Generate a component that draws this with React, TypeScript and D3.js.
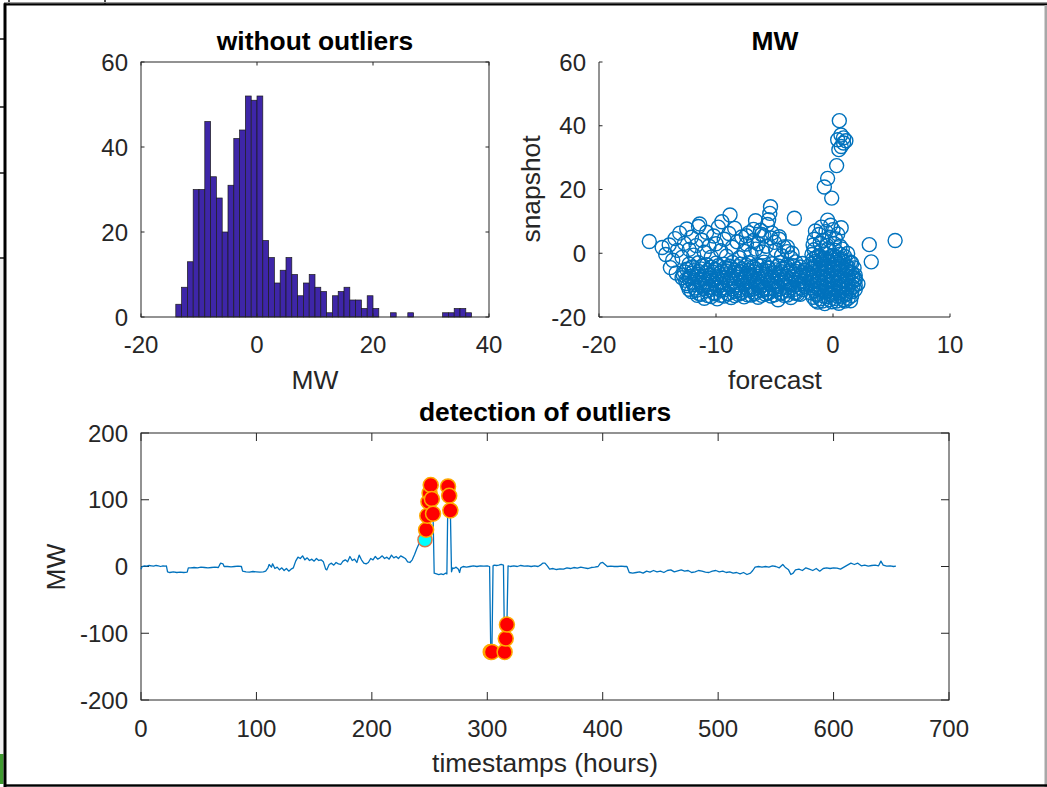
import React from 'react';
import * as d3 from 'd3';

const FONT = '"Liberation Sans", Arial, Helvetica, sans-serif';
const AX = '#262626';
const BLUE = '#0072BD';

// ---------- Histogram data ("without outliers") ----------
const histFirstEdge = -14;
const histBinWidth = 1;
const histCounts = [
  3, 7, 13, 30, 30, 46, 33, 28, 20, 31, 42, 44, 52, 51, 52, 18, 14, 8, 11, 14,
  10, 5, 8, 10, 7, 6, 1, 5, 6, 7, 4, 4, 2, 5, 2, 0, 0, 1, 0, 0,
  1, 0, 0, 0, 0, 0, 1, 1, 2, 2, 1,
];
const histXTicks = [-20, 0, 20, 40];
const histYTicks = [0, 20, 40, 60];

// ---------- Scatter data (forecast vs snapshot) ----------
const scatterBand: [number, number][] = [
  [-11.6,-13.2],[-11.0,-14.1],[-10.4,-13.6],[-9.9,-14.3],[-9.3,-13.4],[-8.7,-13.9],[-8.1,-12.9],[-7.6,-13.7],[-7.0,-13.1],[-6.4,-13.8],[-5.8,-12.8],[-5.3,-13.4],[-4.7,-14.6],[-4.2,-13.2],[-3.6,-13.9],[-3.0,-12.7],
  [-12.1,-12.0],[-11.5,-12.6],[-10.8,-11.8],[-10.2,-12.4],[-9.6,-11.6],[-9.0,-12.7],[-8.4,-11.9],[-7.8,-12.3],[-7.2,-11.5],[-6.7,-12.2],[-6.1,-11.7],[-5.5,-12.5],[-4.9,-11.6],[-4.4,-12.4],[-3.8,-11.8],[-3.2,-12.6],[-2.6,-11.4],
  [-12.4,-10.2],[-11.8,-10.9],[-11.2,-10.1],[-10.6,-10.7],[-10.0,-9.9],[-9.4,-10.8],[-8.8,-10.3],[-8.2,-10.9],[-7.6,-9.8],[-7.0,-10.6],[-6.4,-10.2],[-5.9,-10.9],[-5.3,-9.9],[-4.7,-10.5],[-4.1,-10.0],[-3.5,-10.8],[-2.9,-9.8],[-2.4,-10.4],
  [-12.6,-8.5],[-12.0,-9.1],[-11.4,-8.3],[-10.9,-8.9],[-10.3,-8.6],[-9.7,-9.2],[-9.1,-8.4],[-8.5,-8.9],[-7.9,-8.2],[-7.3,-9.0],[-6.8,-8.6],[-6.2,-9.1],[-5.6,-8.3],[-5.0,-8.8],[-4.4,-8.5],[-3.8,-9.0],[-3.2,-8.2],[-2.6,-8.7],
  [-12.8,-6.8],[-12.2,-7.3],[-11.6,-6.6],[-11.0,-7.2],[-10.5,-6.9],[-9.9,-7.4],[-9.3,-6.7],[-8.7,-7.1],[-8.1,-6.5],[-7.5,-7.3],[-7.0,-6.8],[-6.4,-7.2],[-5.8,-6.6],[-5.2,-7.1],[-4.6,-6.7],[-4.0,-7.3],[-3.4,-6.5],[-2.8,-7.0],[-2.3,-6.6],
  [-12.5,-5.0],[-11.9,-5.5],[-11.3,-4.9],[-10.7,-5.4],[-10.1,-5.1],[-9.5,-5.6],[-9.0,-4.8],[-8.4,-5.3],[-7.8,-4.9],[-7.2,-5.5],[-6.6,-5.0],[-6.0,-5.4],[-5.5,-4.7],[-4.9,-5.2],[-4.3,-4.8],[-3.7,-5.3],[-3.1,-4.9],[-2.5,-5.4],
  [-12.3,-3.4],[-11.5,-3.0],[-10.8,-3.6],[-10.0,-3.1],[-9.3,-3.5],[-8.6,-2.9],[-7.9,-3.4],[-7.2,-3.0],[-6.5,-3.6],[-5.9,-2.8],[-5.2,-3.3],[-4.5,-2.9],[-3.9,-3.5],[-3.2,-2.7],[-2.6,-3.2],
];
const scatterBandFill: [number, number][] = [
  [-11.3,-12.9],[-10.7,-13.3],[-10.1,-12.7],[-9.6,-13.2],[-9.0,-12.6],[-8.4,-13.3],[-7.9,-12.5],[-7.3,-13.0],[-6.7,-12.7],[-6.1,-13.2],[-5.6,-12.3],[-5.0,-13.0],[-4.5,-12.6],[-3.9,-13.1],[-3.3,-12.3],[-2.8,-12.9],
  [-12.3,-11.3],[-11.7,-11.6],[-11.1,-11.0],[-10.5,-11.4],[-9.9,-10.9],[-9.3,-11.5],[-8.6,-11.1],[-8.0,-11.6],[-7.4,-10.9],[-6.9,-11.3],[-6.3,-10.8],[-5.7,-11.4],[-5.1,-10.9],[-4.5,-11.2],[-3.9,-10.7],[-3.3,-11.3],[-2.7,-10.9],
  [-12.5,-9.5],[-11.9,-9.9],[-11.3,-9.3],[-10.7,-9.8],[-10.1,-9.4],[-9.5,-9.9],[-8.9,-9.5],[-8.3,-9.9],[-7.7,-9.2],[-7.1,-9.7],[-6.6,-9.4],[-6.0,-9.9],[-5.4,-9.2],[-4.8,-9.6],[-4.2,-9.3],[-3.6,-9.8],[-3.0,-9.3],[-2.5,-9.6],
  [-12.9,-7.7],[-12.3,-8.0],[-11.7,-7.5],[-11.1,-8.1],[-10.6,-7.8],[-10.0,-8.2],[-9.4,-7.6],[-8.8,-8.0],[-8.2,-7.5],[-7.6,-8.1],[-7.1,-7.7],[-6.5,-8.2],[-5.9,-7.5],[-5.3,-7.9],[-4.7,-7.6],[-4.1,-8.1],[-3.5,-7.4],[-2.9,-7.9],[-2.4,-7.6],
  [-12.7,-5.9],[-12.1,-6.3],[-11.5,-5.7],[-10.9,-6.2],[-10.3,-5.9],[-9.7,-6.4],[-9.1,-5.7],[-8.5,-6.1],[-7.9,-5.8],[-7.3,-6.3],[-6.8,-5.8],[-6.2,-6.2],[-5.6,-5.6],[-5.0,-6.1],[-4.4,-5.8],[-3.8,-6.2],[-3.2,-5.7],[-2.6,-6.1],
  [-12.0,-4.3],[-11.1,-4.0],[-10.4,-4.4],[-9.8,-3.9],[-9.2,-4.5],[-8.8,-4.1],[-8.1,-4.2],[-7.4,-3.8],[-6.8,-4.4],[-6.2,-4.0],[-5.6,-4.3],[-4.7,-4.0],[-4.0,-4.4],[-3.4,-3.9],[-2.8,-4.3],
];
const scatterUpperLeft: [number, number][] = [
  [-15.7,3.7],[-14.6,1.8],[-14.3,-0.4],[-14.0,2.6],[-13.7,-2.2],[-13.5,4.6],[-13.3,0.9],[-13.1,6.3],[-12.9,-1.3],[-12.7,3.1],
  [-12.5,7.6],[-12.3,1.2],[-12.1,5.0],[-11.9,-0.6],[-11.7,2.4],[-11.5,8.4],[-11.4,9.2],[-11.2,4.1],[-11.0,0.3],[-10.8,6.6],
  [-10.6,2.2],[-10.4,-1.2],[-10.2,5.4],[-10.0,3.0],[-9.8,8.2],[-9.6,0.8],[-9.5,9.9],[-9.3,4.4],[-9.1,-0.9],[-8.9,6.2],
  [-8.8,12.0],[-8.6,1.9],[-8.4,7.8],[-8.2,3.6],[-8.0,-1.4],[-7.8,5.1],[-7.6,0.6],[-7.4,2.9],[-7.2,6.4],[-7.0,-0.3],
  [-6.8,4.0],[-6.6,1.3],[-6.4,3.0],[-6.2,7.2],[-6.0,0.4],[-5.9,5.4],[-5.7,2.2],[-5.6,9.0],[-5.5,10.5],[-5.34,14.6],
  [-5.4,12.5],[-5.2,6.3],[-5.0,3.4],[-4.9,1.0],[-4.6,4.4],[-4.4,-0.8],[-4.2,2.0],[-3.9,0.5],[-3.6,-1.5],[-3.3,11.0],
  [-6.62,10.2],[-7.4,5.5],[-6.8,7.5],[-6.1,5.9],[-5.3,4.8],[-4.6,5.2],[-3.9,2.0],[-3.5,0.0],[-13.9,-4.5],[-13.4,-6.2],
];
const scatterNearZero: [number, number][] = [
  [-1.3,-15.3],[-0.7,-15.8],[-0.1,-15.2],[0.5,-15.7],[1.0,-15.0],
  [-1.7,-13.8],[-1.1,-14.3],[-0.5,-13.6],[0.1,-14.2],[0.7,-13.7],[1.3,-14.1],
  [-1.9,-12.4],[-1.3,-12.8],[-0.7,-12.2],[-0.1,-12.9],[0.5,-12.3],[1.1,-12.7],[1.6,-12.1],
  [-1.8,-10.9],[-1.2,-11.4],[-0.6,-10.7],[0.0,-11.3],[0.6,-10.8],[1.2,-11.2],[1.7,-10.6],
  [-2.0,-9.3],[-1.4,-9.8],[-0.8,-9.2],[-0.2,-9.9],[0.4,-9.4],[1.0,-9.7],[1.6,-9.1],[2.13,-9.6],
  [-1.9,-7.9],[-1.3,-8.3],[-0.7,-7.7],[-0.1,-8.2],[0.5,-7.8],[1.1,-8.4],[1.7,-7.6],
  [-2.0,-6.4],[-1.4,-6.8],[-0.8,-6.2],[-0.2,-6.9],[0.4,-6.3],[1.0,-6.7],[1.6,-6.1],[1.9,-6.9],
  [-1.8,-4.9],[-1.2,-5.3],[-0.6,-4.7],[0.0,-5.2],[0.6,-4.8],[1.2,-5.4],[1.8,-4.6],
  [-1.9,-3.4],[-1.3,-3.8],[-0.7,-3.2],[-0.1,-3.7],[0.5,-3.3],[1.1,-3.9],[1.6,-3.1],
  [-1.7,-1.9],[-1.1,-2.3],[-0.5,-1.7],[0.1,-2.2],[0.7,-1.8],[1.3,-2.4],
  [-1.8,-0.4],[-1.2,-0.8],[-0.6,-0.2],[0.0,-0.7],[0.6,-0.3],[1.25,-0.1],
  [-1.6,1.1],[-1.0,0.7],[-0.4,1.4],[0.2,0.9],[0.8,1.3],
  [-1.7,2.6],[-1.1,3.2],[-0.5,2.4],[0.1,3.0],[0.6,2.2],
  [-1.6,4.4],[-1.2,5.9],[-0.9,4.0],[-0.6,6.8],[-0.3,5.0],[0.0,7.4],[0.2,4.6],[-1.0,8.2],[-0.46,10.4],[-0.2,8.8],[0.4,6.0],[0.7,8.0],[-1.5,7.0],
];
const scatterZeroFill: [number, number][] = [
  [-1.5,-14.8],[-0.9,-15.0],[-0.3,-14.6],[0.3,-15.0],[0.9,-14.5],[1.5,-14.9],
  [-1.4,-13.1],[-0.8,-13.4],[-0.2,-13.0],[0.4,-13.5],[1.0,-13.1],[1.6,-13.3],
  [-1.6,-11.7],[-1.0,-12.0],[-0.4,-11.6],[0.2,-12.1],[0.8,-11.6],[1.4,-11.9],[1.9,-11.4],
  [-1.7,-10.1],[-1.1,-10.4],[-0.5,-10.0],[0.1,-10.5],[0.7,-10.1],[1.3,-10.4],[1.9,-10.0],
  [-1.7,-8.6],[-1.1,-9.0],[-0.5,-8.5],[0.1,-9.0],[0.7,-8.6],[1.3,-9.0],[1.9,-8.4],
  [-1.7,-7.1],[-1.1,-7.5],[-0.5,-7.0],[0.1,-7.5],[0.7,-7.1],[1.3,-7.4],[1.9,-7.9],
  [-1.6,-5.7],[-1.0,-6.0],[-0.4,-5.6],[0.2,-6.0],[0.8,-5.6],[1.4,-5.9],
  [-1.7,-4.2],[-1.1,-4.5],[-0.5,-4.0],[0.1,-4.4],[0.7,-4.0],[1.3,-4.4],
  [-1.5,-2.6],[-0.9,-3.0],[-0.3,-2.5],[0.3,-2.9],[0.9,-2.6],[1.5,-2.9],
  [-1.4,-1.2],[-0.8,-1.5],[-0.2,-1.1],[0.4,-1.4],[1.0,-1.0],
];
const scatterSpread: [number, number][] = [
  [0.54,41.6],[0.68,37.1],[0.4,35.6],[0.9,34.6],[1.1,35.3],[0.7,33.5],[0.5,32.5],[0.9,36.2],
  [0.31,27.5],[-0.46,23.5],[-0.74,20.8],[-0.11,17.3],[3.1,2.7],[3.27,-2.7],[5.31,4.0],
];
const scatterXTicks = [-20, -10, 0, 10];
const scatterYTicks = [-20, 0, 20, 40, 60];

// ---------- Time series (detection of outliers) ----------
const mwSeries: [number, number][] = [
  [0,-4],[1,0],[3,1],[5,0.5],[7,1.5],[9,1],[11,0.5],[13,1.5],[15,1],[17,0],[19,1],[21,0.5],[22,1],
  [23,-8],[25,-9],[28,-8],[31,-9],[34,-8.5],[37,-9],[40,-8.5],
  [41,-2],[43,-2],[46,-1.5],[49,-2],[52,-1],[55,-1.5],[58,-2],[61,-1.5],[64,-1],[67,-1.5],
  [68,2],[69,5],[71,4],[72,0],[75,0],[78,-0.5],[81,0],[84,0.5],[87,0],
  [88,-7],[91,-8],[94,-8.5],[97,-7.5],[100,-8],[103,-8.5],[106,-8],[108,-7],
  [110,-2],[111,3],[113,-1],[114,4],[116,-3],[118,-1],[120,-5],[122,-2],[124,-6],[126,-3],[128,-7],[130,-4],[132,-2],
  [134,8],[136,14],[138,12],[140,16],[142,10],[144,13],[146,9],[148,11],[150,8],[152,12],[154,9],[156,10],[158,7],
  [160,-4],[161,-5],[163,3],[165,5],[167,2],[169,6],[171,4],[173,3],[175,8],[177,10],[179,7],[181,15],[183,9],[185,11],
  [187,6],[189,17],[191,10],[193,5],[195,4],[197,6],[199,12],[201,10],[203,15],[205,11],[207,13],[209,16],[211,12],
  [213,14],[215,11],[217,17],[219,13],[221,15],[223,12],[225,16],[227,14],[229,12],[231,7],[233,6],[235,10],[237,18],
  [239,27],[241,35],[243,38],[245,37],[246,40],
  [247,55],[248,76],[249,97],[250,110],[251,122],[252,101],[253,79],[254,-10],
  [256,-11],[258,-12],[260,-11],[262,-12],[264,-10],[265,-11],[266,120],[267,106],[268,84],[269,-8],[270,-2],
  [271,-3],[273,-1],[275,-4],[276,-9],[277,-2],[279,0],[282,-1],[285,0],[288,1],[291,0],[294,1],[297,0.5],[300,1],[302,0],
  [303,-128],[304,-128],[305,1],[306,2],[308,1.5],[310,2],[312,3],[314,2],[315,-128],[316,-108],[317,-87],[318,1],
  [320,0],[323,1],[326,0],[329,1.5],[332,0.5],[335,1],[338,0],[341,1],[344,0],[346,2],[348,5],[350,5],[352,1],
  [354,-4],[357,-3],[360,-4.5],[363,-3.5],[366,-4],[369,-2],[372,-3],[375,-1.5],[378,-2.5],[381,-1],[384,-2],[387,-3],
  [390,-1.5],[393,-1],[396,0],[398,5],[400,6],[402,3],[404,0],[407,0.5],[410,0],[413,0],[416,0.5],[419,0],[421,0],
  [423,-9],[426,-10],[429,-9],[432,-8],[435,-10],[438,-7],[441,-8.5],[444,-6],[447,-8],[450,-7],[453,-9],[456,-6],
  [459,-5],[462,-8],[465,-6.5],[468,-5],[471,-7],[474,-6],[477,-9],[480,-8],[483,-6],[486,-7],[489,-8.5],[492,-9],
  [495,-7],[498,-6],[501,-8],[504,-7],[507,-9],[510,-8],[513,-10],[516,-9],[519,-11],[522,-9],[525,-12],[528,-10],
  [530,-6],[532,-1],[535,0],[538,-1],[541,0],[544,-1],[547,1],[550,0],[553,-2],[556,3],[558,-1],[561,-5],[563,-12],
  [565,-10],[567,-5],[570,-4],[573,-6],[576,-2],[579,-4],[582,-6],[585,-3],[588,-7],[591,-3],[594,-2],[597,-3],
  [600,-2],[603,-2.5],[606,-4],[609,-1],[612,2],[615,5],[618,3],[621,5],[624,1],[627,2],[630,0.5],[633,1.5],[636,2],
  [639,1],[641,8],[643,2],[646,0.5],[649,1],[652,0],[654,0.5],
];
const cyanPoint: [number, number][] = [[246, 40]];
const outlierPoints: [number, number][] = [
  [247,55],[248,76],[249,97],[250,110],[251,122],[252,101],[253,79],
  [266,120],[267,106],[268,84],
  [303,-128],[304,-128],[315,-128],[316,-108],[317,-87],
];
const tsXTicks = [0, 100, 200, 300, 400, 500, 600, 700];
const tsYTicks = [-200, -100, 0, 100, 200];

const tickText = { fontFamily: FONT, fontSize: 24, fill: AX } as const;
const labelText = { fontFamily: FONT, fontSize: 26.4, fill: AX } as const;
const titleText = { fontFamily: FONT, fontSize: 26.4, fill: '#000', fontWeight: 'bold' as const };

function Histogram() {
  const x = d3.scaleLinear().domain([-20, 40]).range([141, 489]);
  const y = d3.scaleLinear().domain([0, 60]).range([317, 62]);
  const tl = 3.5;
  return (
    <g>
      {histCounts.map((c, i) => {
        if (c === 0) return null;
        const x0 = x(histFirstEdge + i * histBinWidth);
        const x1 = x(histFirstEdge + (i + 1) * histBinWidth);
        return (
          <rect key={i} x={x0} y={y(c)} width={x1 - x0} height={y(0) - y(c)}
            fill="#3e26a8" stroke="#1c1c1c" strokeWidth={0.7} />
        );
      })}
      <rect x={x(-20)} y={y(60)} width={x(40) - x(-20)} height={y(0) - y(60)} fill="none" stroke={AX} strokeWidth={1} />
      {histXTicks.map((t) => (
        <g key={t}>
          <line x1={x(t)} x2={x(t)} y1={y(0)} y2={y(0) - tl} stroke={AX} />
          <line x1={x(t)} x2={x(t)} y1={y(60)} y2={y(60) + tl} stroke={AX} />
          <text x={x(t)} y={353} textAnchor="middle" {...tickText}>{t}</text>
        </g>
      ))}
      {histYTicks.map((t) => (
        <g key={t}>
          <line x1={x(-20)} x2={x(-20) + tl} y1={y(t)} y2={y(t)} stroke={AX} />
          <line x1={x(40)} x2={x(40) - tl} y1={y(t)} y2={y(t)} stroke={AX} />
          <text x={128} y={y(t)} dy="0.36em" textAnchor="end" {...tickText}>{t}</text>
        </g>
      ))}
      <text x={315} y={50} textAnchor="middle" {...titleText}>without outliers</text>
      <text x={315} y={389} textAnchor="middle" {...labelText}>MW</text>
    </g>
  );
}

function Scatter() {
  const x = d3.scaleLinear().domain([-20, 10]).range([599, 950]);
  const y = d3.scaleLinear().domain([-20, 60]).range([317, 62]);
  const tl = 3.5;
  const all = [...scatterUpperLeft, ...scatterBand, ...scatterBandFill, ...scatterNearZero, ...scatterZeroFill, ...scatterSpread];
  return (
    <g>
      {all.map((p, i) => (
        <circle key={i} cx={x(p[0])} cy={y(p[1])} r={7} fill="none" stroke={BLUE} strokeWidth={1.4} />
      ))}
      <line x1={x(-20)} x2={x(-20)} y1={y(60)} y2={y(-20)} stroke={AX} />
      <line x1={x(-20)} x2={x(10)} y1={y(-20)} y2={y(-20)} stroke={AX} />
      {scatterXTicks.map((t) => (
        <g key={t}>
          <line x1={x(t)} x2={x(t)} y1={y(-20)} y2={y(-20) - tl} stroke={AX} />
          <text x={x(t)} y={353} textAnchor="middle" {...tickText}>{t}</text>
        </g>
      ))}
      {scatterYTicks.map((t) => (
        <g key={t}>
          <line x1={x(-20)} x2={x(-20) + tl} y1={y(t)} y2={y(t)} stroke={AX} />
          <text x={586} y={y(t)} dy="0.36em" textAnchor="end" {...tickText}>{t}</text>
        </g>
      ))}
      <text x={775} y={50} textAnchor="middle" {...titleText}>MW</text>
      <text x={775} y={389} textAnchor="middle" {...labelText}>forecast</text>
      <text transform="translate(540,189) rotate(-90)" textAnchor="middle" {...labelText}>snapshot</text>
    </g>
  );
}

function TimeSeries() {
  const x = d3.scaleLinear().domain([0, 700]).range([141, 949]);
  const y = d3.scaleLinear().domain([-200, 200]).range([700, 433]);
  const tl = 8;
  const line = d3.line<[number, number]>().x((d) => x(d[0])).y((d) => y(d[1]));
  return (
    <g>
      <rect x={x(0)} y={y(200)} width={x(700) - x(0)} height={y(-200) - y(200)} fill="none" stroke={AX} strokeWidth={1} />
      {tsXTicks.map((t) => (
        <g key={t}>
          <line x1={x(t)} x2={x(t)} y1={y(-200)} y2={y(-200) - tl} stroke={AX} />
          <line x1={x(t)} x2={x(t)} y1={y(200)} y2={y(200) + tl} stroke={AX} />
          <text x={x(t)} y={737} textAnchor="middle" {...tickText}>{t}</text>
        </g>
      ))}
      {tsYTicks.map((t) => (
        <g key={t}>
          <line x1={x(0)} x2={x(0) + tl} y1={y(t)} y2={y(t)} stroke={AX} />
          <line x1={x(700)} x2={x(700) - tl} y1={y(t)} y2={y(t)} stroke={AX} />
          <text x={128} y={y(t)} dy="0.36em" textAnchor="end" {...tickText}>{t}</text>
        </g>
      ))}
      <path d={line(mwSeries) || ''} fill="none" stroke={BLUE} strokeWidth={1.3} strokeLinejoin="round" />
      {cyanPoint.map((p, i) => (
        <circle key={'c' + i} cx={x(p[0])} cy={y(p[1])} r={7} fill="#00ffff" stroke="#d9774a" strokeWidth={1.5} />
      ))}
      {outlierPoints.map((p, i) => (
        <circle key={'o' + i} cx={x(p[0])} cy={y(p[1])} r={7.5} fill="#ff0000" stroke="#ffaa00" strokeWidth={1.5} />
      ))}
      <text x={545} y={421} textAnchor="middle" {...titleText}>detection of outliers</text>
      <text x={545} y={772} textAnchor="middle" {...labelText}>timestamps (hours)</text>
      <text transform="translate(65,567) rotate(-90)" textAnchor="middle" {...labelText}>MW</text>
    </g>
  );
}

function Frame() {
  return (
    <g>
      <rect x={0} y={259} width={4} height={495} fill="#f0f0f0" />
      <rect x={0} y={754} width={3.5} height={30} fill="#3f9a2f" />
      {[39, 107, 173, 258].map((yy) => (
        <line key={yy} x1={0} x2={5} y1={yy} y2={yy} stroke="#111" strokeWidth={1.5} />
      ))}
      <line x1={9} x2={9} y1={0} y2={4} stroke="#111" strokeWidth={1.5} />
      <line x1={105} x2={105} y1={0} y2={4} stroke="#111" strokeWidth={1.5} />
      <rect x={4} y={2} width={1043} height={1.4} fill="#9a9a9a" />
      <rect x={4} y={3.3} width={1043} height={2.2} fill="#000" />
      <rect x={3.5} y={3.3} width={3} height={784} fill="#000" />
      <rect x={1044.5} y={5} width={2.5} height={782} fill="#a8a8a8" />
      <rect x={4} y={784.3} width={1043} height={2.4} fill="#000" />
    </g>
  );
}

export default function App() {
  return (
    <svg width={1047} height={787} viewBox="0 0 1047 787"
      style={{ position: 'absolute', left: 0, top: 0, background: '#fff' }}>
      <rect x={0} y={0} width={1047} height={787} fill="#fff" />
      <Histogram />
      <Scatter />
      <TimeSeries />
      <Frame />
    </svg>
  );
}
